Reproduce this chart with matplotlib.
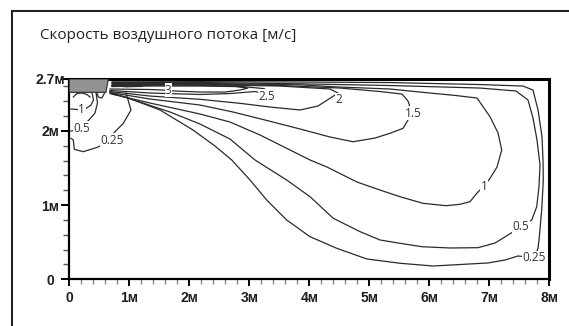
import matplotlib.pyplot as plt
from matplotlib.lines import Line2D
from matplotlib.patches import Polygon

title = "Скорость воздушного потока [м/с]"

x_ticks = [0, 1, 2, 3, 4, 5, 6, 7, 8]
x_tick_labels = ["0", "1м", "2м", "3м", "4м", "5м", "6м", "7м", "8м"]
y_ticks = [0, 1, 2, 2.7]
y_tick_labels = ["0", "1м", "2м", "2.7м"]

# диффузор у потолка (м)
diffuser_x = [0, 0.61, 0.65, 0]
diffuser_y = [2.52, 2.52, 2.70, 2.70]

# изолинии скорости (м)
c3_x = [0.678, 1.345, 1.562, 1.762, 2.178, 2.595, 2.845, 2.978, 2.762, 2.178, 1.345, 0.712]
c3_y = [2.565, 2.558, 2.551, 2.538, 2.524, 2.524, 2.551, 2.578, 2.598, 2.605, 2.605, 2.598]

c25_x = [0.678, 1.345, 2.178, 2.678, 3.095, 3.22, 3.32, 3.25, 2.845, 2.178, 1.345, 0.712]
c25_y = [2.545, 2.511, 2.491, 2.504, 2.531, 2.51, 2.50, 2.57, 2.601, 2.615, 2.615, 2.605]

c2_x = [0.678, 1.345, 2.178, 2.845, 3.345, 3.845, 4.145, 4.345, 4.478, 4.345, 3.512, 2.178, 1.345, 0.712]
c2_y = [2.531, 2.470, 2.426, 2.372, 2.322, 2.282, 2.336, 2.440, 2.511, 2.565, 2.605, 2.623, 2.623, 2.612]

c15_x = [0.678, 1.345, 2.178, 2.728, 3.262, 3.845, 4.345, 4.728, 5.095, 5.345, 5.562, 5.645,
         5.695, 5.645, 5.545, 5.178, 4.512, 3.512, 2.178, 0.712]
c15_y = [2.518, 2.430, 2.349, 2.255, 2.147, 2.026, 1.918, 1.854, 1.904, 1.968, 2.035, 2.147,
         2.282, 2.403, 2.497, 2.531, 2.578, 2.612, 2.632, 2.625]

c1_x = [0.678, 1.345, 2.178, 2.678, 3.178, 3.678, 4.012, 4.295, 4.795, 5.178, 5.512, 5.895,
        6.278, 6.512, 6.678, 6.795, 6.912, 7.012, 7.128, 7.207, 7.145, 7.012, 6.795, 6.445,
        5.845, 5.345, 4.512, 3.845, 2.178, 0.712]
c1_y = [2.504, 2.376, 2.228, 2.120, 1.945, 1.743, 1.608, 1.513, 1.311, 1.203, 1.113, 1.024,
        0.992, 1.011, 1.046, 1.163, 1.257, 1.361, 1.513, 1.743, 1.973, 2.191, 2.443, 2.477,
        2.524, 2.565, 2.591, 2.621, 2.641, 2.639]

c05_x = [0.712, 1.178, 1.678, 2.178, 2.678, 3.095, 3.623, 4.012, 4.400, 4.845, 5.178, 5.512,
         5.878, 6.345, 6.812, 7.095, 7.312, 7.528, 7.707, 7.790, 7.828, 7.845, 7.795, 7.728,
         7.645, 7.445, 6.845, 5.345, 3.845, 2.178, 0.712]
c05_y = [2.511, 2.389, 2.255, 2.093, 1.891, 1.608, 1.338, 1.113, 0.822, 0.642, 0.530, 0.485,
         0.439, 0.422, 0.426, 0.489, 0.597, 0.705, 0.799, 0.978, 1.248, 1.540, 1.877, 2.174,
         2.417, 2.538, 2.578, 2.612, 2.635, 2.652, 2.652]

c025_x = [0.712, 0.962, 1.512, 2.062, 2.428, 2.707, 3.012, 3.290, 3.623, 4.012, 4.457, 4.957,
          5.512, 6.062, 6.978, 7.262, 7.478, 7.745, 7.812, 7.833, 7.873, 7.900, 7.895, 7.878,
          7.812, 7.728, 7.562, 6.845, 5.345, 3.845, 2.178, 0.712]
c025_y = [2.497, 2.450, 2.282, 2.012, 1.796, 1.608, 1.338, 1.069, 0.799, 0.574, 0.418, 0.274,
          0.216, 0.179, 0.220, 0.260, 0.314, 0.292, 0.418, 0.570, 0.934, 1.338, 1.608, 1.921,
          2.282, 2.551, 2.605, 2.625, 2.652, 2.659, 2.664, 2.661]

# у стены под диффузором
w1_x = [0.378, 0.403, 0.362, 0.278, 0.145, 0.028]
w1_y = [2.515, 2.417, 2.349, 2.302, 2.288, 2.295]

w05_x = [0.445, 0.470, 0.428, 0.328, 0.228, 0.112, 0.028]
w05_y = [2.515, 2.376, 2.241, 2.147, 2.080, 2.012, 1.999]

w025_x = [0.945, 1.028, 0.900, 0.762, 0.578, 0.467, 0.233, 0.083, 0.067, 0.028]
w025_y = [2.511, 2.282, 2.102, 1.989, 1.823, 1.779, 1.720, 1.752, 1.877, 1.900]

# мелкие петли у диффузора
u1_x = [0.457, 0.483, 0.540, 0.583]
u1_y = [2.523, 2.457, 2.443, 2.502]
u2_x = [0.067, 0.123, 0.207, 0.290, 0.345]
u2_y = [2.457, 2.502, 2.511, 2.493, 2.457]
jet_x = [0.73, 0.95, 1.20, 1.21, 0.95, 0.73]
jet_y = [2.610, 2.630, 2.615, 2.600, 2.595, 2.610]

contours = [(c3_x, c3_y), (c25_x, c25_y), (c2_x, c2_y), (c15_x, c15_y), (c1_x, c1_y),
            (c05_x, c05_y), (c025_x, c025_y), (w1_x, w1_y), (w05_x, w05_y),
            (w025_x, w025_y), (u1_x, u1_y), (u2_x, u2_y), (jet_x, jet_y)]

label_text = ["3", "2.5", "2", "1.5", "1", "0.5", "0.25", "1", "0.5", "0.25"]
label_x = [1.65, 3.29, 4.495, 5.733, 6.912, 7.528, 7.745, 0.207, 0.207, 0.707]
label_y = [2.551, 2.470, 2.417, 2.237, 1.248, 0.705, 0.292, 2.282, 2.035, 1.877]

fig = plt.figure(figsize=(5.69, 3.26), dpi=100)
ax = fig.add_axes([0.1218, 0.1433, 0.8436, 0.6144])

for cx, cy in contours:
    ax.plot(cx, cy, color='#2b2b2b', lw=0.9, solid_joinstyle='round')

ax.add_patch(Polygon(list(zip(diffuser_x, diffuser_y)), closed=True,
                     facecolor='#939393', edgecolor='#3a3a3a', lw=0.9, zorder=3))

for t, lx, ly in zip(label_text, label_x, label_y):
    ax.text(lx, ly, t, ha='center', va='center', fontsize=8.5, color='#333333',
            family=['Open Sans', 'DejaVu Sans'], zorder=4,
            bbox=dict(facecolor='white', edgecolor='none', pad=0.3))

ax.set_xlim(0, 8)
ax.set_ylim(0, 2.7)

for side in ['left', 'bottom']:
    ax.spines[side].set_linewidth(1.6)
for side in ['top', 'right']:
    ax.spines[side].set_linewidth(2.2)

ax.set_xticks(x_ticks)
ax.set_xticklabels(x_tick_labels)
ax.set_xticks([i * 0.2 for i in range(41) if i % 5 != 0], minor=True)
ax.set_yticks(y_ticks)
ax.set_yticklabels(y_tick_labels)
ax.set_yticks([i * 0.2 for i in range(1, 14) if i % 5 != 0], minor=True)

ax.tick_params(axis='x', which='major', length=5, width=1.4, pad=3.5)
ax.tick_params(axis='x', which='minor', length=3.5, width=1, color='#888888')
ax.tick_params(axis='y', which='major', length=6, width=1.4, pad=7.6)
ax.tick_params(axis='y', which='minor', length=4, width=1, color='#555555')

for lab in ax.get_xticklabels() + ax.get_yticklabels():
    lab.set_family(['Liberation Sans', 'DejaVu Sans'])
    lab.set_fontweight('bold')
    lab.set_fontsize(10)
    lab.set_color('#1e1e1e')
for lab in ax.get_yticklabels():
    lab.set_ha('center')

# рамка картинки
fig.add_artist(Line2D([0.0211, 0.0211], [0, 0.966], color='#222222', lw=1.5))
fig.add_artist(Line2D([0.0211, 1.0], [0.966, 0.966], color='#222222', lw=1.5))

fig.text(0.0703, 0.8896, title, ha='left', va='center', fontsize=11,
         family=['Open Sans', 'DejaVu Sans'], color='#222222')

fig.savefig('out.png', dpi=100)
